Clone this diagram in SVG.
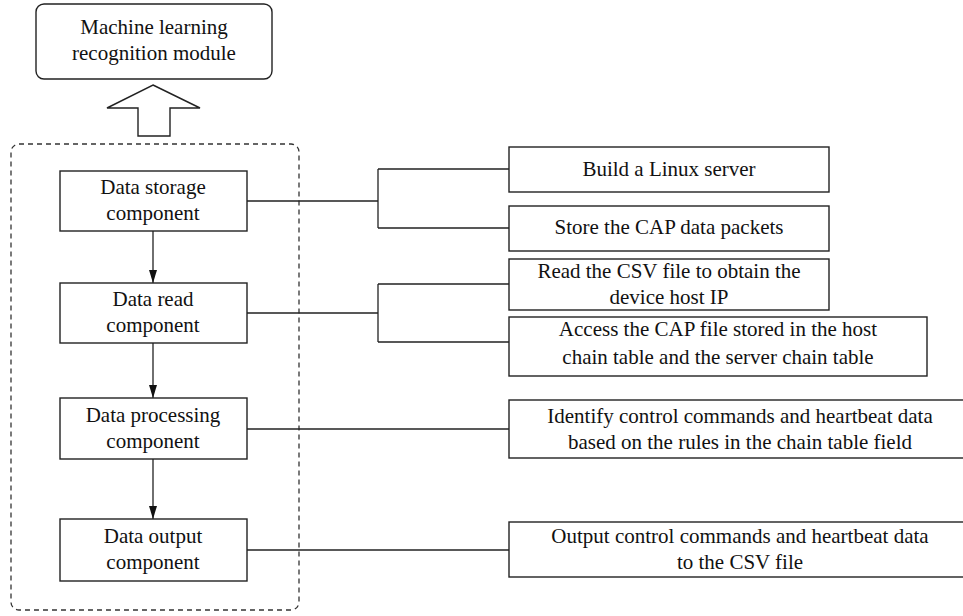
<svg xmlns="http://www.w3.org/2000/svg" width="963" height="616" viewBox="0 0 963 616">
<defs>
<marker id="ah" markerWidth="13" markerHeight="8" refX="13" refY="4" orient="auto" markerUnits="userSpaceOnUse" viewBox="0 0 13 8">
<path d="M0,0 L13,4 L0,8 Z" fill="#111"/>
</marker>
<style>
.box{fill:#fff;stroke:#222;stroke-width:1.4}
.ln{fill:none;stroke:#222;stroke-width:1.3}
text{font-family:"Liberation Serif","Times New Roman",serif;font-size:21px;fill:#111;text-anchor:middle}
</style>
</defs>
<rect width="963" height="616" fill="#fff"/>

<g id="ml-module">
<rect class="box" x="36" y="4" width="236" height="75" rx="8"/>
<text x="154" y="34">Machine learning</text>
<text x="154" y="60">recognition module</text>
</g>

<g id="big-arrow">
<path class="box" d="M153,85 L200,108 L170,108 L170,136 L138,136 L138,108 L107,108 Z"/>
</g>

<g id="container">
<rect x="11" y="144" width="288" height="466" rx="8" fill="none" stroke="#333" stroke-width="1.3" stroke-dasharray="5 4"/>
</g>

<g id="connectors">
<line class="ln" x1="153" y1="231" x2="153" y2="283" marker-end="url(#ah)"/>
<line class="ln" x1="153" y1="343" x2="153" y2="398" marker-end="url(#ah)"/>
<line class="ln" x1="153" y1="459" x2="153" y2="519" marker-end="url(#ah)"/>
<path class="ln" d="M247,201 H378 M378,169 V228 M378,169 H509 M378,228 H509"/>
<path class="ln" d="M247,313 H378 M378,284 V342 M378,284 H509 M378,342 H509"/>
<path class="ln" d="M247,429 H509"/>
<path class="ln" d="M247,550 H509"/>
</g>

<g id="data-storage">
<rect class="box" x="60" y="171" width="187" height="60"/>
<text x="153" y="194">Data storage</text>
<text x="153" y="220">component</text>
</g>
<g id="data-read">
<rect class="box" x="60" y="283" width="187" height="60"/>
<text x="153" y="306">Data read</text>
<text x="153" y="332">component</text>
</g>
<g id="data-processing">
<rect class="box" x="60" y="398" width="187" height="61"/>
<text x="153" y="422">Data processing</text>
<text x="153" y="448">component</text>
</g>
<g id="data-output">
<rect class="box" x="60" y="519" width="187" height="62"/>
<text x="153" y="543">Data output</text>
<text x="153" y="569">component</text>
</g>

<g id="build-linux">
<rect class="box" x="509" y="147" width="320" height="45"/>
<text x="669" y="176">Build a Linux server</text>
</g>
<g id="store-cap">
<rect class="box" x="509" y="206" width="320" height="45"/>
<text x="669" y="234">Store the CAP data packets</text>
</g>
<g id="read-csv">
<rect class="box" x="509" y="259" width="320" height="51"/>
<text x="669" y="278">Read the CSV file to obtain the</text>
<text x="669" y="304">device host IP</text>
</g>
<g id="access-cap">
<rect class="box" x="509" y="317" width="418" height="59"/>
<text x="718" y="336">Access the CAP file stored in the host</text>
<text x="718" y="364">chain table and the server chain table</text>
</g>
<g id="identify">
<rect class="box" x="509" y="400" width="470" height="58"/>
<text x="740" y="423">Identify control commands and heartbeat data</text>
<text x="740" y="449">based on the rules in the chain table field</text>
</g>
<g id="output-csv">
<rect class="box" x="509" y="522" width="470" height="55"/>
<text x="740" y="543">Output control commands and heartbeat data</text>
<text x="740" y="569">to the CSV file</text>
</g>
</svg>
